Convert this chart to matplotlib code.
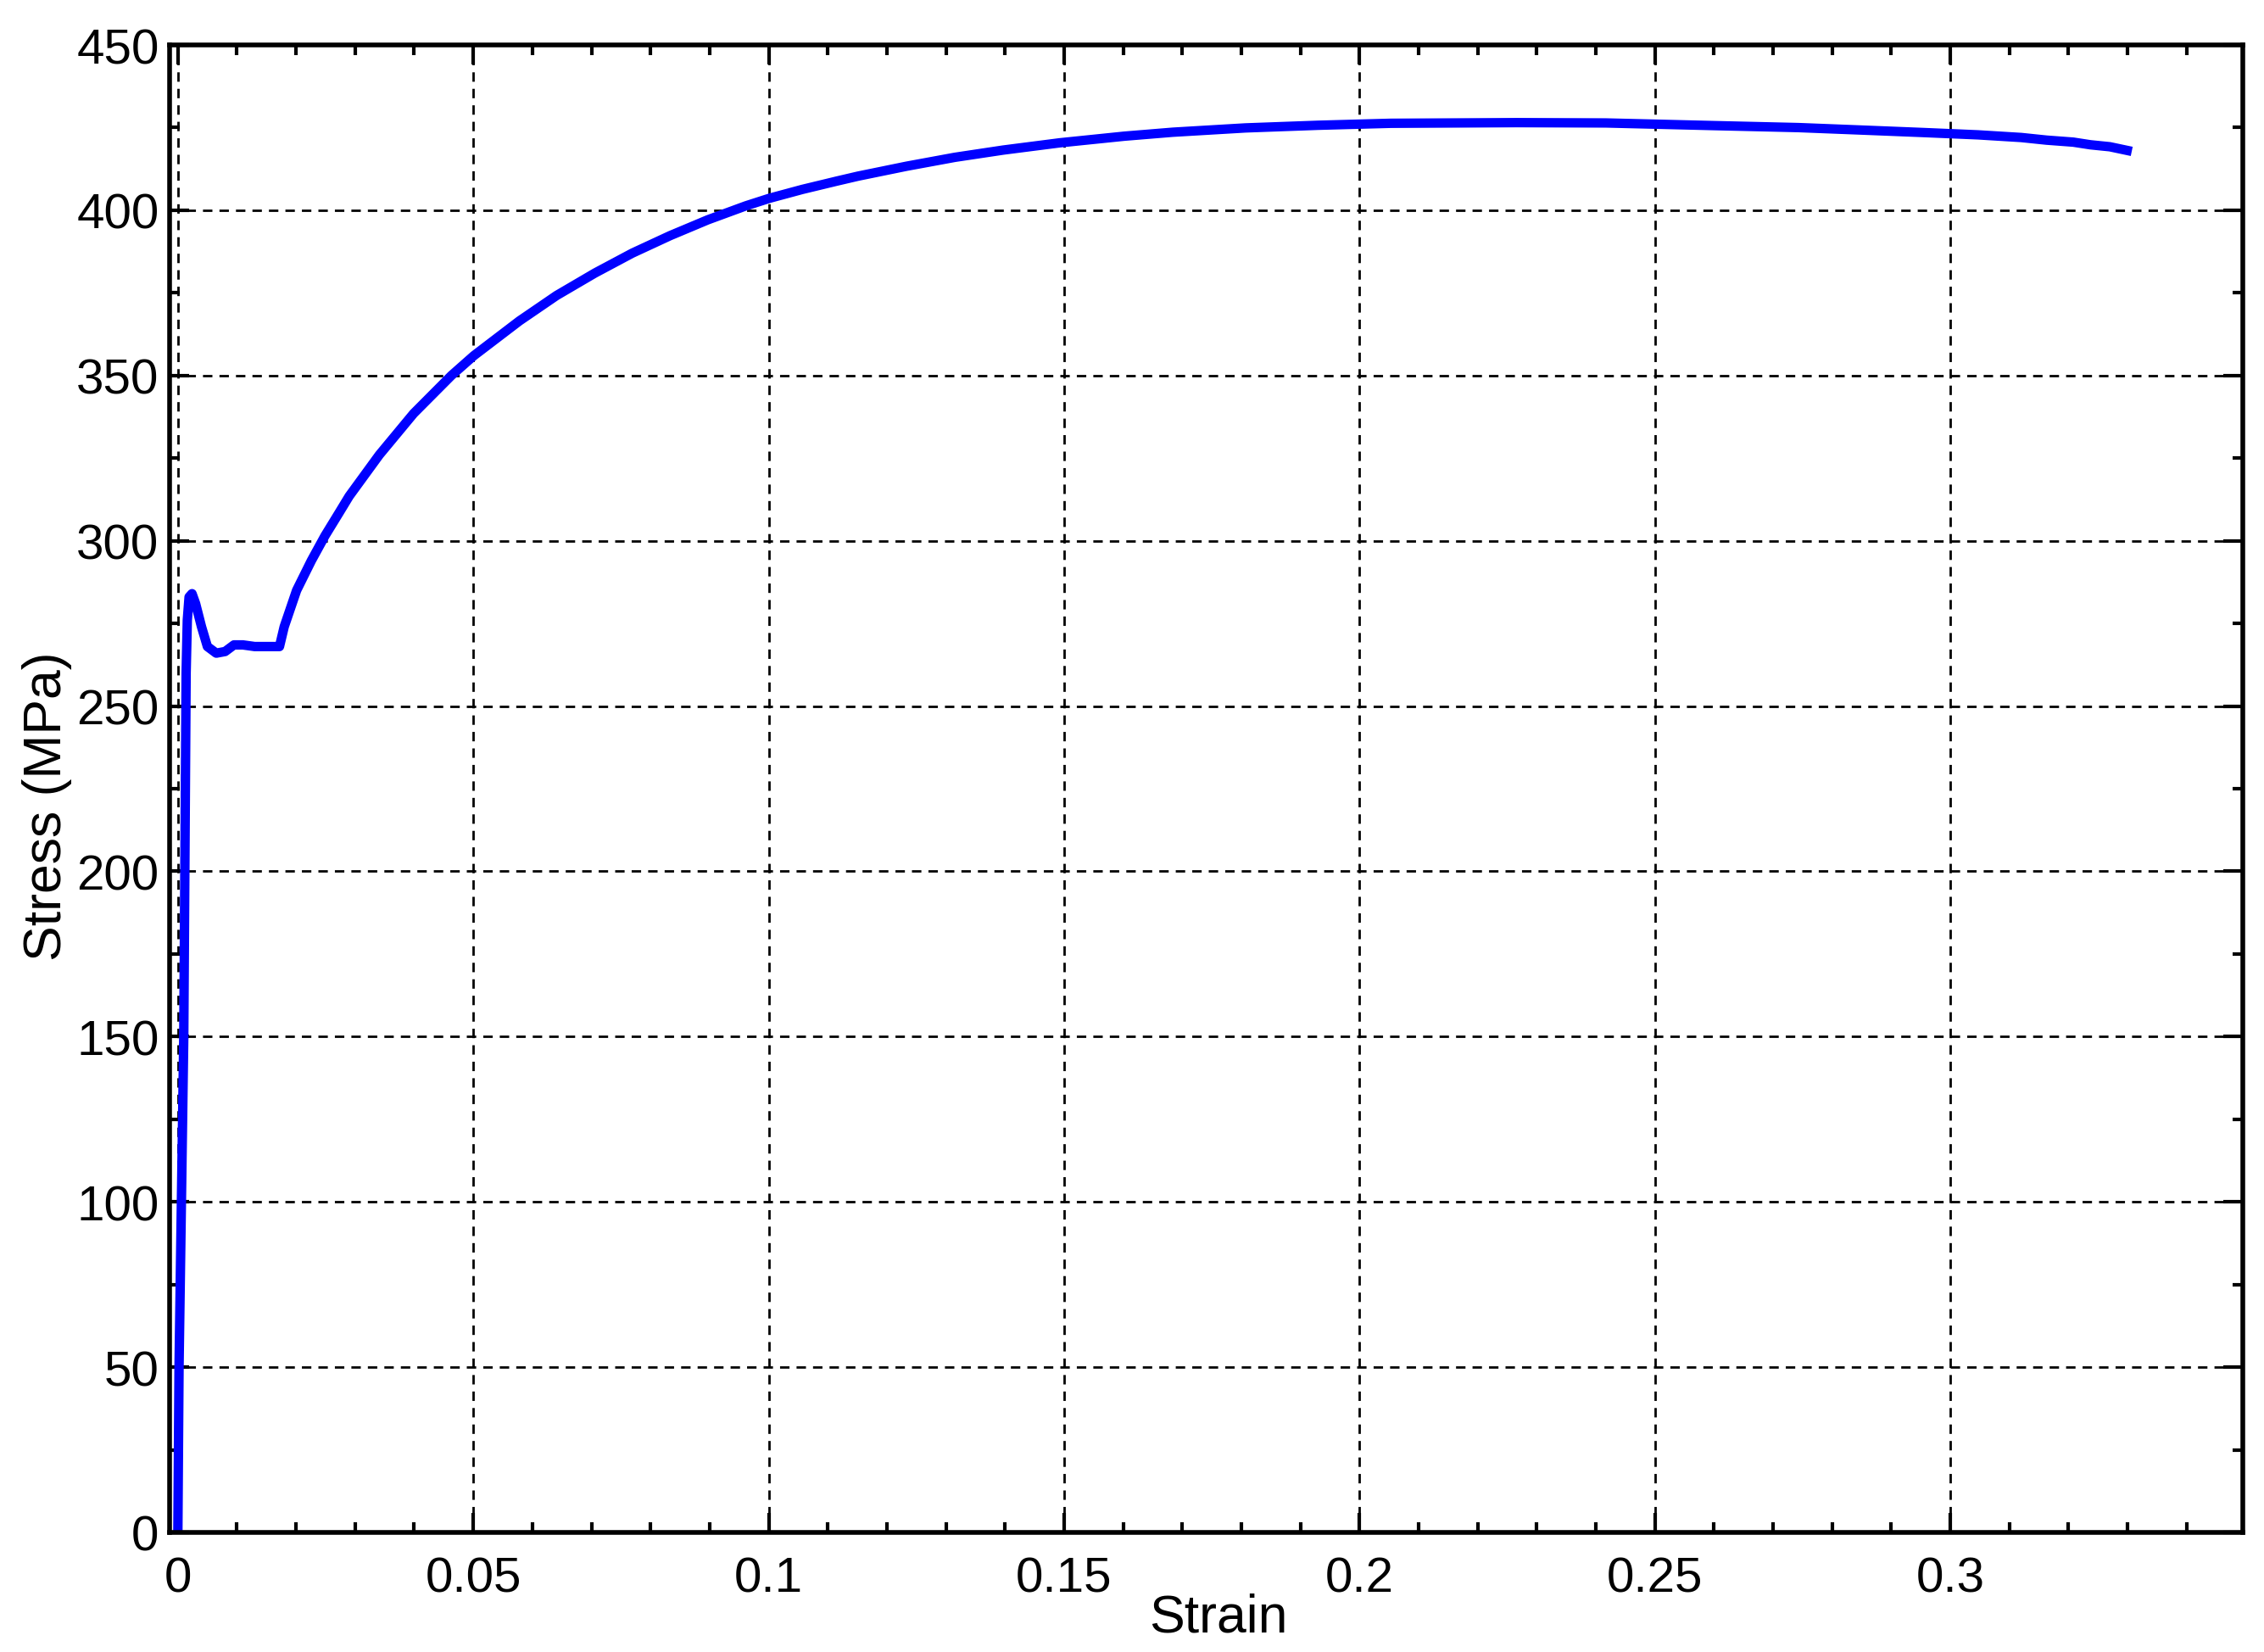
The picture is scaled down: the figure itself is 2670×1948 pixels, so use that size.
import matplotlib
matplotlib.use("Agg")
import matplotlib.pyplot as plt
from matplotlib.ticker import MultipleLocator, FixedLocator

strain = [0.0000, 0.0002, 0.0006, 0.0010, 0.0012, 0.0014, 0.0016, 0.0019, 0.0024,
          0.0030, 0.0040, 0.0050, 0.0065, 0.0080, 0.0095, 0.0110, 0.0130, 0.0150,
          0.0172, 0.0180, 0.0201, 0.0226, 0.0249, 0.0273, 0.0290, 0.0341, 0.0399,
          0.0463, 0.0501, 0.0578, 0.0641, 0.0706, 0.0769, 0.0833, 0.0897, 0.0961,
          0.1001, 0.1057, 0.1115, 0.1151, 0.1233, 0.1315, 0.1397, 0.1493, 0.1602,
          0.1684, 0.1807, 0.1930, 0.2053, 0.2266, 0.2417, 0.2600, 0.2743, 0.2857,
          0.2955, 0.3047, 0.3120, 0.3163, 0.3208, 0.3237, 0.3270, 0.3307]
stress = [0, 50, 100, 150, 205, 260, 276, 283, 284,
          281, 274, 268, 266, 266.5, 268.5, 268.5, 268, 268,
          268, 274, 285, 294, 301.5, 308.5, 313.5, 326, 338.5,
          350, 356, 366.5, 374.2, 381, 387, 392.3, 397.1, 401.3,
          403.6, 406.3, 408.8, 410.3, 413.3, 416, 418.2, 420.4, 422.4,
          423.6, 424.9, 425.7, 426.3, 426.5, 426.4, 425.6, 425, 424.2,
          423.5, 422.8, 422, 421.2, 420.6, 419.8, 419.2, 417.8]

xticks = [0, 0.05, 0.1, 0.15, 0.2, 0.25, 0.3]
xtick_labels = ["0", "0.05", "0.1", "0.15", "0.2", "0.25", "0.3"]
yticks = [0, 50, 100, 150, 200, 250, 300, 350, 400, 450]

plt.rcParams['font.family'] = ['Liberation Sans', 'DejaVu Sans']

fig = plt.figure(figsize=(26.7, 19.49), dpi=100)
ax = fig.add_axes([200/2670, 1 - 1808/1949, (2645-200)/2670, (1808-54)/1949])

ax.plot(strain, stress, color=(0, 0, 1), lw=8.0, solid_capstyle='butt',
        solid_joinstyle='round', zorder=3)

ax.set_xlim(-0.0014, 0.3495)
ax.set_ylim(0, 450)
ax.xaxis.set_major_locator(FixedLocator(xticks))
ax.set_xticklabels(xtick_labels)
ax.yaxis.set_major_locator(FixedLocator(yticks))
ax.xaxis.set_minor_locator(MultipleLocator(0.01))
ax.yaxis.set_minor_locator(MultipleLocator(25))

ax.grid(True, which='major', color='black', lw=2.0, linestyle=(0, (4.0, 3.0)))
ax.set_axisbelow(True)

for s in ax.spines.values():
    s.set_linewidth(4)
    s.set_zorder(5)

ax.tick_params(which='both', direction='in', top=True, right=True, width=3, color='black')
ax.tick_params(which='major', length=16.5, labelsize=42)
ax.tick_params(which='minor', length=8.6)
ax.tick_params(axis='x', which='major', pad=20)
ax.tick_params(axis='y', which='major', pad=9)

ax.set_xlabel("Strain", fontsize=45)
ax.set_ylabel("Stress (MPa)", fontsize=45)
ax.xaxis.set_label_coords(0.506, -0.040)
ax.yaxis.set_label_coords(-0.047, 0.489)

fig.savefig("out.png", dpi=100)
